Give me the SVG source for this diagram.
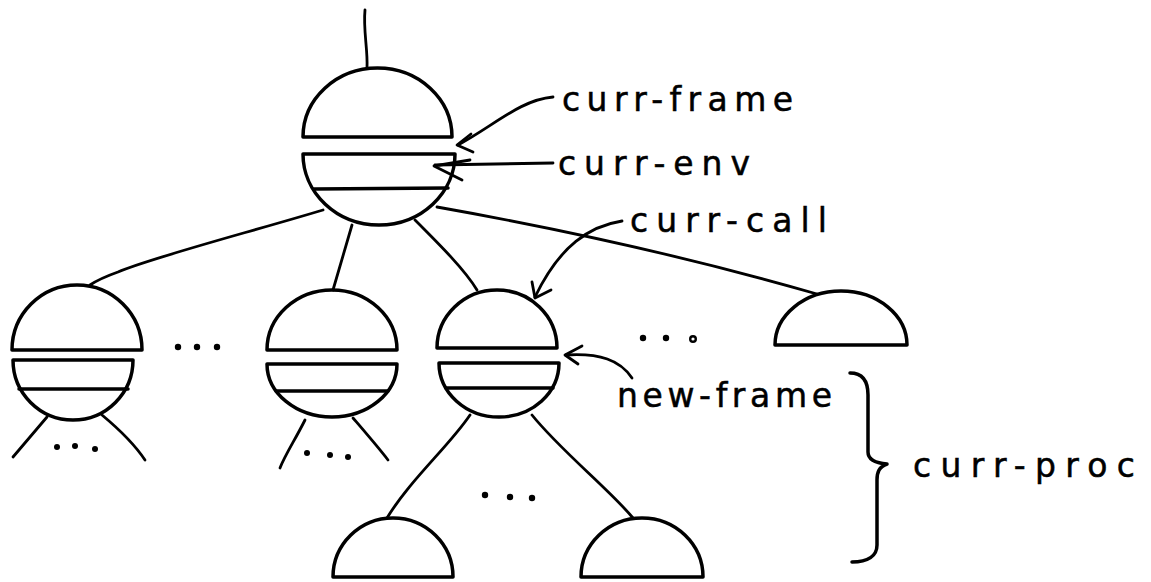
<svg xmlns="http://www.w3.org/2000/svg" width="1151" height="582" viewBox="0 0 1151 582">
  <style>
    .ink { fill: none; stroke: #000; stroke-width: 3.5; stroke-linecap: round; stroke-linejoin: round; }
    .wire { fill: none; stroke: #000; stroke-width: 2.8; stroke-linecap: round; stroke-linejoin: round; }
    .dot { fill: #000; }
    .ring { fill: #fff; stroke: #000; stroke-width: 2.4; }
    .lbl { font-family: "DejaVu Sans", "Liberation Sans", sans-serif; font-size: 33px; fill: #000; stroke: #000; stroke-width: 0.5; }
  </style>
  <rect width="1151" height="582" fill="#fff"/>

  <!-- edges of the call tree -->
  <g id="connectors">
    <path class="wire" d="M365,10 C363,30 368,50 367,68"/>
    <path class="wire" d="M323,210 C250,232 150,258 118,272 C104,277 96,281 90,285"/>
    <path class="wire" d="M352,225 L333,290"/>
    <path class="wire" d="M415,220 C440,245 465,270 477,290"/>
    <path class="wire" d="M437,207 Q640,243 817,294"/>
    <path class="wire" d="M470,415 C450,445 410,480 387,518"/>
    <path class="wire" d="M532,415 C560,450 610,490 633,518"/>
  </g>

  <!-- root frame -->
  <g id="node-root">
    <path class="ink" d="M303,137 A74.5,69 0 0 1 452,137 Z"/>
    <path class="ink" d="M303,154 L455,154 A76,71 0 0 1 303,154"/>
    <path class="ink" d="M314,189 L448,188"/>
  </g>

  <!-- first child, with its own subtree -->
  <g id="node-child1">
    <path class="ink" d="M12,350 A65,65 0 0 1 142,350 Z"/>
    <path class="ink" d="M13,360 L133,360 A60,60 0 0 1 13,360"/>
    <path class="ink" d="M19,389 L128,389"/>
    <path class="wire" d="M47,417 L13,457"/>
    <path class="wire" d="M102,415 C120,430 135,445 145,460"/>
    <circle class="dot" cx="57" cy="447" r="3"/>
    <circle class="dot" cx="75" cy="446" r="3"/>
    <circle class="dot" cx="95" cy="449" r="3"/>
  </g>

  <g id="ellipsis-left">
    <circle class="dot" cx="178" cy="347" r="3.2"/>
    <circle class="dot" cx="197" cy="347" r="3.2"/>
    <circle class="dot" cx="217" cy="347" r="3.2"/>
  </g>

  <!-- another child, with its own subtree -->
  <g id="node-child2">
    <path class="ink" d="M267,350 A65,60 0 0 1 397,350 Z"/>
    <path class="ink" d="M267,364 L397,364 A65,53 0 0 1 267,364"/>
    <path class="ink" d="M276,391 L388,391"/>
    <path class="wire" d="M305,420 C295,440 285,455 280,468"/>
    <path class="wire" d="M353,418 C365,432 378,447 388,460"/>
    <circle class="dot" cx="307" cy="453" r="3"/>
    <circle class="dot" cx="330" cy="455" r="3"/>
    <circle class="dot" cx="348" cy="457" r="3"/>
  </g>

  <!-- current call -->
  <g id="node-call">
    <path class="ink" d="M437,348 A60,58 0 0 1 557,348 Z"/>
    <path class="ink" d="M439,363 L559,363 A60,54 0 0 1 439,363"/>
    <path class="ink" d="M446,388 L553,388"/>
    <circle class="dot" cx="485" cy="495" r="3.2"/>
    <circle class="dot" cx="510" cy="497" r="3.2"/>
    <circle class="dot" cx="532" cy="498" r="3.2"/>
  </g>

  <g id="ellipsis-right">
    <circle class="dot" cx="643" cy="338" r="3.2"/>
    <circle class="dot" cx="666" cy="338" r="3.2"/>
    <circle class="ring" cx="693" cy="339" r="2.8"/>
  </g>

  <!-- last child -->
  <g id="node-child-last">
    <path class="ink" d="M775,345 A66,54 0 0 1 907,345 Z"/>
  </g>

  <!-- callee subtree leaves -->
  <g id="node-leaf1">
    <path class="ink" d="M333,577 A60,59 0 0 1 453,577 Z"/>
  </g>
  <g id="node-leaf2">
    <path class="ink" d="M581,577 A61,59 0 0 1 703,577 Z"/>
  </g>

  <!-- pointer labels -->
  <g id="label-curr-frame">
    <path class="wire" d="M553,97 C520,100 495,125 458,145"/>
    <path class="wire" d="M471,134 L457,145 L473,152"/>
    <text class="lbl" x="562" y="111" textLength="231" lengthAdjust="spacing">curr-frame</text>
  </g>
  <g id="label-curr-env">
    <path class="wire" d="M553,163 L435,165"/>
    <path class="wire" d="M470,160 L434,166 L462,180"/>
    <text class="lbl" x="558" y="175" textLength="192" lengthAdjust="spacing">curr-env</text>
  </g>
  <g id="label-curr-call">
    <path class="wire" d="M622,221 C590,226 560,245 535,297"/>
    <path class="wire" d="M532,282 L535,298 L551,290"/>
    <text class="lbl" x="630" y="232" textLength="197" lengthAdjust="spacing">curr-call</text>
  </g>
  <g id="label-new-frame">
    <path class="wire" d="M632,378 C620,360 600,353 566,355"/>
    <path class="wire" d="M582,346 L565,355 L578,364"/>
    <text class="lbl" x="617" y="407" textLength="215" lengthAdjust="spacing">new-frame</text>
  </g>
  <g id="label-curr-proc">
    <path class="ink" d="M850,373 C862,373 868,380 868,395 L868,452 C868,460 875,463 887,464 C879,467 877,472 877,480 L877,545 C877,556 868,562 852,562"/>
    <text class="lbl" x="913" y="477" textLength="222" lengthAdjust="spacing">curr-proc</text>
  </g>
</svg>
